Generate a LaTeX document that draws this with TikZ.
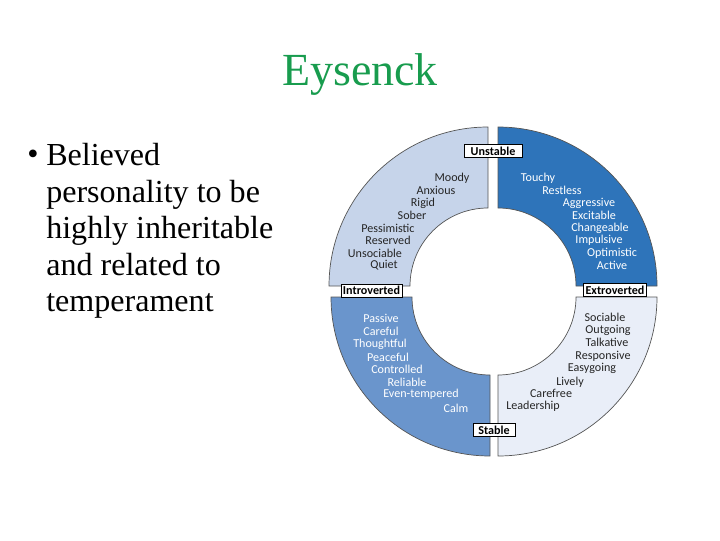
\documentclass[tikz,border=0pt]{standalone}
\usepackage{fontspec}
\setmainfont{Liberation Serif}
\newfontfamily\wheelfont{Carlito}
\usetikzlibrary{positioning}
\definecolor{titlegreen}{RGB}{24,156,78}
\definecolor{unstIn}{RGB}{198,212,234}
\definecolor{unstEx}{RGB}{46,116,186}
\definecolor{stabIn}{RGB}{106,149,204}
\definecolor{stabEx}{RGB}{233,238,248}
\definecolor{rimgray}{RGB}{85,85,85}

\begin{document}
\begin{tikzpicture}[
    x=0.025cm, y=0.025cm,
    quad/.style={draw=rimgray, line width=0.5pt},
    tag/.style={draw=black, fill=white, line width=0.5pt, font=\wheelfont\fontsize{8.6}{9}\selectfont\bfseries, inner xsep=1.5pt, inner ysep=0pt, minimum height=0.32cm},
    trait/.style={font=\wheelfont\fontsize{8.6}{9}\selectfont, inner sep=0pt},
    lighttrait/.style={trait, text=black!85},
    darktrait/.style={trait, text=white}
]
    \useasboundingbox (0,0) rectangle (720,540);

    % titel
    \node[anchor=base, text=titlegreen, font=\fontsize{32.7}{36}\selectfont] (title) at (360,454) {Eysenck};

    % bullet links
    \node[anchor=base, font=\fontsize{22.8}{26}\selectfont, inner sep=0pt] (dot) at (33,375) {\textbullet};
    \node[anchor=north west, align=left, inner sep=0pt, font=\fontsize{22.8}{26}\selectfont] (belief) at (46,397)
        {Believed\\personality to be\\highly inheritable\\and related to\\temperament};

    % vier kwadranten
    \path[quad, fill=unstIn] (488,332) -- ++(0,81) arc[start angle=90, end angle=180, radius=159]
        -- ++(81,0) arc[start angle=180, end angle=90, radius=78] -- cycle;
    \path[quad, fill=unstEx] (498,332) -- ++(0,81) arc[start angle=90, end angle=0, radius=159]
        -- ++(-81,0) arc[start angle=0, end angle=90, radius=78] -- cycle;
    \path[quad, fill=stabIn] (490,165) -- ++(0,-81) arc[start angle=270, end angle=180, radius=159]
        -- ++(81,0) arc[start angle=180, end angle=270, radius=78] -- cycle;
    \path[quad, fill=stabEx] (498,165) -- ++(0,-81) arc[start angle=270, end angle=360, radius=159]
        -- ++(-81,0) arc[start angle=0, end angle=-90, radius=78] -- cycle;

    % labels in de spleten
    \node[tag, minimum width=1.45cm] (unstable) at (493,389) {Unstable};
    \node[tag] (introverted) at (371.5,249.5) {Introverted};
    \node[tag] (extroverted) at (615,250) {Extroverted};
    \node[tag, minimum width=1.05cm] (stable) at (494,110) {Stable};

    % introvert - instabiel
    \node[lighttrait] (moody) at (452,362) {Moody};
    \node[lighttrait] (anxious) at (436,349.5) {Anxious};
    \node[lighttrait] (rigid) at (423,337) {Rigid};
    \node[lighttrait] (sober) at (412,324.5) {Sober};
    \node[lighttrait] (pessimistic) at (388,312) {Pessimistic};
    \node[lighttrait] (reserved) at (388,299.5) {Reserved};
    \node[lighttrait] (unsociable) at (375,287) {Unsociable};
    \node[lighttrait] (quiet) at (384,274.5) {Quiet};

    % extravert - instabiel
    \node[darktrait] (touchy) at (538,362) {Touchy};
    \node[darktrait] (restless) at (562,350) {Restless};
    \node[darktrait] (aggressive) at (589,337) {Aggressive};
    \node[darktrait] (excitable) at (594,325) {Excitable};
    \node[darktrait] (changeable) at (600,312) {Changeable};
    \node[darktrait] (impulsive) at (599,300) {Impulsive};
    \node[darktrait] (optimistic) at (612,287) {Optimistic};
    \node[darktrait] (active) at (612,275) {Active};

    % introvert - stabiel
    \node[darktrait] (passive) at (381,222) {Passive};
    \node[darktrait] (careful) at (381,209) {Careful};
    \node[darktrait] (thoughtful) at (380,196) {Thoughtful};
    \node[darktrait] (peaceful) at (388,183) {Peaceful};
    \node[darktrait] (controlled) at (397,171) {Controlled};
    \node[darktrait] (reliable) at (407,158) {Reliable};
    \node[darktrait] (eventempered) at (421,146) {Even-tempered};
    \node[darktrait] (calm) at (456,132) {Calm};

    % extravert - stabiel
    \node[lighttrait] (sociable) at (605,223) {Sociable};
    \node[lighttrait] (outgoing) at (608,210) {Outgoing};
    \node[lighttrait] (talkative) at (607,198) {Talkative};
    \node[lighttrait] (responsive) at (603,184) {Responsive};
    \node[lighttrait] (easygoing) at (592,172) {Easygoing};
    \node[lighttrait] (lively) at (570,158) {Lively};
    \node[lighttrait] (carefree) at (551,147) {Carefree};
    \node[lighttrait] (leadership) at (533,134) {Leadership};
\end{tikzpicture}
\end{document}
